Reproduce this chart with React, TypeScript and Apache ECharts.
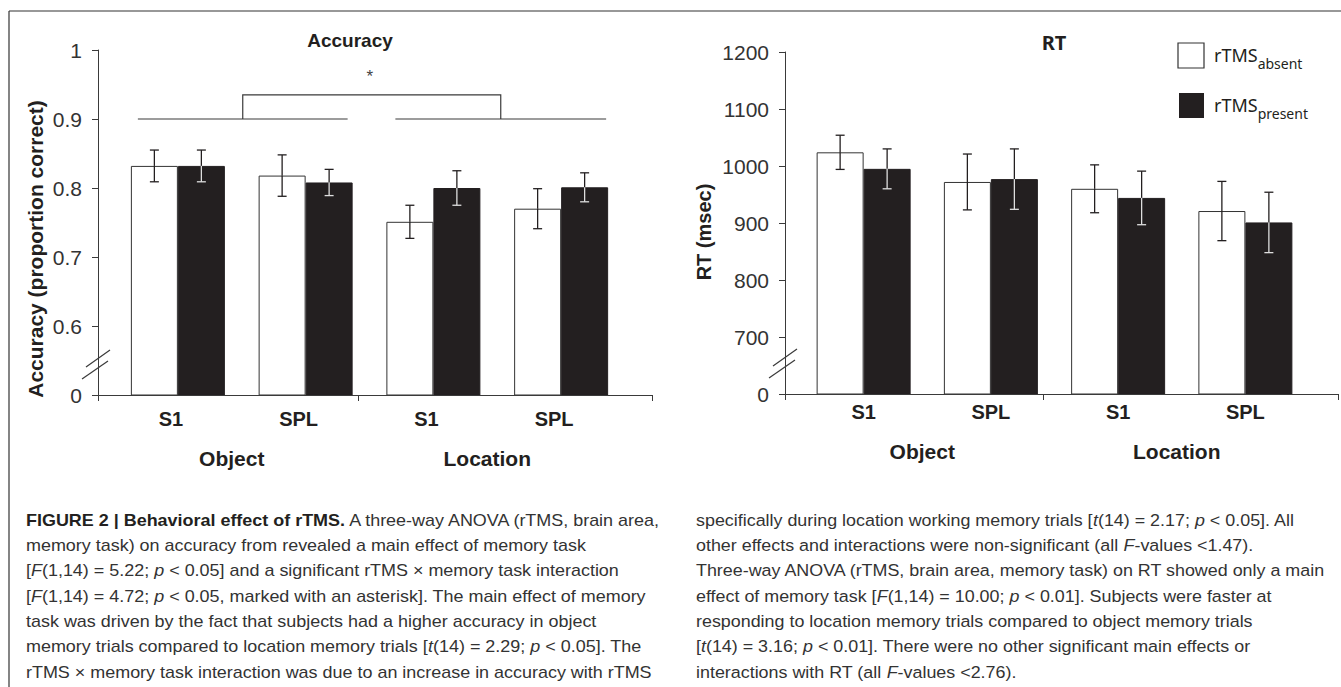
import React, { useEffect, useRef } from "react";
import * as echarts from "echarts";

// ---------- data ----------
const categories = ["S1", "SPL", "S1", "SPL"];
const tasks = ["Object", "Location"];

const accAbsent = [0.832, 0.818, 0.751, 0.77];
const accAbsentErr = [0.023, 0.03, 0.024, 0.029];
const accPresent = [0.832, 0.808, 0.8, 0.801];
const accPresentErr = [0.023, 0.019, 0.025, 0.021];

const rtAbsent = [1024, 972, 960, 921];
const rtAbsentErr = [30, 49, 42, 52];
const rtPresent = [995, 977, 944, 901];
const rtPresentErr = [35, 53, 47, 53];

const accYLabels = ["0", "0.6", "0.7", "0.8", "0.9", "1"];
const rtYLabels = ["0", "700", "800", "900", "1000", "1100", "1200"];

const seriesNames = ["rTMS", "rTMS"];
const seriesSubs = ["absent", "present"];

const captionLeft = [
  "{b|FIGURE 2 | Behavioral effect of rTMS.} A three-way ANOVA (rTMS, brain area,",
  "memory task) on accuracy from revealed a main effect of memory task",
  "[{i|F}(1,14) = 5.22; {i|p} < 0.05] and a significant rTMS × memory task interaction",
  "[{i|F}(1,14) = 4.72; {i|p} < 0.05, marked with an asterisk]. The main effect of memory",
  "task was driven by the fact that subjects had a higher accuracy in object",
  "memory trials compared to location memory trials [{i|t}(14) = 2.29; {i|p} < 0.05]. The",
  "rTMS × memory task interaction was due to an increase in accuracy with rTMS",
];
const captionRight = [
  "specifically during location working memory trials [{i|t}(14) = 2.17; {i|p} < 0.05]. All",
  "other effects and interactions were non-significant (all {i|F}-values <1.47).",
  "Three-way ANOVA (rTMS, brain area, memory task) on RT showed only a main",
  "effect of memory task [{i|F}(1,14) = 10.00; {i|p} < 0.01]. Subjects were faster at",
  "responding to location memory trials compared to object memory trials",
  "[{i|t}(14) = 3.16; {i|p} < 0.01]. There were no other significant main effects or",
  "interactions with RT (all {i|F}-values <2.76).",
];

// ---------- styles ----------
const DARK = "#231f20";
const AXIS = "#3a3a3a";
const SANS = '"Liberation Sans", Arial, sans-serif';
const BAR_W = 47;

function measure(text: string, font: string): number {
  const c = document.createElement("canvas");
  const ctx = c.getContext("2d")!;
  ctx.font = font;
  return ctx.measureText(text).width;
}
const strip = (s: string) => s.replace(/\{[a-z]+\|([^}]*)\}/g, "$1");

function errRender(offset: number, lowerColor: string) {
  return (_params: any, api: any) => {
    const i = api.value(0);
    const v = api.value(1);
    const e = api.value(2);
    const top = api.coord([i, v + e]);
    const mid = api.coord([i, v]);
    const bot = api.coord([i, v - e]);
    const x = mid[0] + offset;
    const cap = 4.5;
    const dark = { stroke: DARK, lineWidth: 1.3 };
    const light = { stroke: lowerColor, lineWidth: 1.3 };
    return {
      type: "group",
      children: [
        { type: "line", shape: { x1: x, y1: top[1], x2: x, y2: mid[1] }, style: dark },
        { type: "line", shape: { x1: x - cap, y1: top[1], x2: x + cap, y2: top[1] }, style: dark },
        { type: "line", shape: { x1: x, y1: mid[1], x2: x, y2: bot[1] }, style: light },
        { type: "line", shape: { x1: x - cap, y1: bot[1], x2: x + cap, y2: bot[1] }, style: light },
      ],
    };
  };
}

function frameX(grid: number, mid: number) {
  return {
    type: "value",
    gridIndex: grid,
    min: 0,
    max: 1,
    z: 10,
    axisLine: { show: true, lineStyle: { color: AXIS, width: 1 } },
    axisTick: { show: true, length: 6, customValues: [0, mid, 1], lineStyle: { color: AXIS } },
    axisLabel: { show: false },
    splitLine: { show: false },
  };
}

function catX(grid: number, data: string[], margin: number, pad: number, size: number) {
  return {
    type: "category",
    gridIndex: grid,
    position: "bottom",
    data,
    axisLine: { show: false },
    axisTick: { show: false },
    splitLine: { show: false },
    axisLabel: {
      margin,
      interval: 0,
      color: DARK,
      fontFamily: SANS,
      fontWeight: "bold",
      fontSize: size,
      padding: [0, pad, 0, 0],
    },
  };
}

export default function App() {
  const ref = useRef<HTMLDivElement>(null);

  useEffect(() => {
    const chart = echarts.init(ref.current!, null, { renderer: "svg" });

    const yLab = (labels: string[], min: number, step: number) => (v: number) =>
      labels[Math.round((v - min) / step)] ?? "";

    const option: any = {
      animation: false,
      backgroundColor: "#fff",
      grid: [
        { left: 98, top: 50, width: 554, height: 345 },
        { left: 114, top: 50, width: 511, height: 345 },
        { left: 785, top: 52, width: 553, height: 342 },
        { left: 800, top: 52, width: 509, height: 342 },
      ],
      xAxis: [
        frameX(0, 0.469),
        catX(1, categories, 14, 14, 20),
        catX(1, tasks, 53, 20, 21),
        frameX(2, 0.467),
        catX(3, categories, 8, 0, 20),
        catX(3, tasks, 47, 10, 21),
      ],
      yAxis: [
        {
          type: "value",
          gridIndex: 0,
          min: 0.5,
          max: 1,
          interval: 0.1,
          z: 10,
          axisLine: { show: true, lineStyle: { color: AXIS } },
          axisTick: { show: true, length: 6, lineStyle: { color: AXIS } },
          splitLine: { show: false },
          axisLabel: {
            margin: 16,
            color: "#333",
            fontFamily: SANS,
            fontSize: 21,
            formatter: yLab(accYLabels, 0.5, 0.1),
          },
        },
        { type: "value", gridIndex: 1, min: 0.5, max: 1, interval: 0.1, show: false },
        {
          type: "value",
          gridIndex: 2,
          min: 600,
          max: 1200,
          interval: 100,
          z: 10,
          axisLine: { show: true, lineStyle: { color: AXIS } },
          axisTick: { show: true, length: 6, lineStyle: { color: AXIS } },
          splitLine: { show: false },
          axisLabel: {
            margin: 16,
            color: "#333",
            fontFamily: SANS,
            fontSize: 21,
            formatter: yLab(rtYLabels, 600, 100),
          },
        },
        { type: "value", gridIndex: 3, min: 600, max: 1200, interval: 100, show: false },
      ],
      series: [
        {
          type: "bar",
          name: "absent",
          xAxisIndex: 1,
          yAxisIndex: 1,
          data: accAbsent,
          barWidth: BAR_W,
          barGap: "0%",
          itemStyle: { color: "#fff", borderColor: "#333", borderWidth: 1 },
        },
        {
          type: "bar",
          name: "present",
          xAxisIndex: 1,
          yAxisIndex: 1,
          data: accPresent,
          barWidth: BAR_W,
          barGap: "0%",
          itemStyle: { color: DARK, borderColor: DARK, borderWidth: 1 },
        },
        {
          type: "custom",
          xAxisIndex: 1,
          yAxisIndex: 1,
          z: 5,
          encode: { x: 0, y: 1 },
          data: accAbsent.map((v, i) => [i, v, accAbsentErr[i]]),
          renderItem: errRender(-BAR_W / 2, DARK),
        },
        {
          type: "custom",
          xAxisIndex: 1,
          yAxisIndex: 1,
          z: 5,
          encode: { x: 0, y: 1 },
          data: accPresent.map((v, i) => [i, v, accPresentErr[i]]),
          renderItem: errRender(BAR_W / 2, "#dedede"),
        },
        {
          type: "bar",
          name: "absent",
          xAxisIndex: 4,
          yAxisIndex: 3,
          data: rtAbsent,
          barWidth: BAR_W,
          barGap: "0%",
          itemStyle: { color: "#fff", borderColor: "#333", borderWidth: 1 },
        },
        {
          type: "bar",
          name: "present",
          xAxisIndex: 4,
          yAxisIndex: 3,
          data: rtPresent,
          barWidth: BAR_W,
          barGap: "0%",
          itemStyle: { color: DARK, borderColor: DARK, borderWidth: 1 },
        },
        {
          type: "custom",
          xAxisIndex: 4,
          yAxisIndex: 3,
          z: 5,
          encode: { x: 0, y: 1 },
          data: rtAbsent.map((v, i) => [i, v, rtAbsentErr[i]]),
          renderItem: errRender(-BAR_W / 2, DARK),
        },
        {
          type: "custom",
          xAxisIndex: 4,
          yAxisIndex: 3,
          z: 5,
          encode: { x: 0, y: 1 },
          data: rtPresent.map((v, i) => [i, v, rtPresentErr[i]]),
          renderItem: errRender(BAR_W / 2, "#dedede"),
        },
      ],
    };

    chart.setOption(option);

    // ---------- annotations ----------
    const cx = (axis: number, i: number) => chart.convertToPixel({ xAxisIndex: axis }, i) as number;
    const py = (axis: number, v: number) => chart.convertToPixel({ yAxisIndex: axis }, v) as number;
    const c = [0, 1, 2, 3].map((i) => cx(1, i));
    const y09 = py(1, 0.9);
    const yBr = py(1, 0.935);
    const yStar = py(1, 0.962);
    const l1 = [c[0] - 40, c[1] + 42];
    const l2 = [c[2] - 38, c[3] + 45];
    const m1 = (l1[0] + l1[1]) / 2;
    const m2 = (l2[0] + l2[1]) / 2;
    const thin = { stroke: AXIS, lineWidth: 1.2 };

    const g: any[] = [];
    // frame
    g.push({ type: "line", shape: { x1: 9, y1: 11, x2: 1341, y2: 11 }, style: { stroke: "#333", lineWidth: 1.2 } });
    g.push({ type: "line", shape: { x1: 9, y1: 11, x2: 9, y2: 687 }, style: { stroke: "#333", lineWidth: 1.2 } });
    // bracket
    g.push({ type: "line", shape: { x1: l1[0], y1: y09, x2: l1[1], y2: y09 }, style: thin });
    g.push({ type: "line", shape: { x1: l2[0], y1: y09, x2: l2[1], y2: y09 }, style: thin });
    g.push({
      type: "polyline",
      shape: { points: [[m1, y09], [m1, yBr], [m2, yBr], [m2, y09]] },
      style: { stroke: AXIS, lineWidth: 1.2, fill: "none" },
    });
    g.push({
      type: "text",
      x: (m1 + m2) / 2 - 2,
      y: yStar,
      style: { text: "*", fontFamily: SANS, fontSize: 17, fill: "#444", align: "center", verticalAlign: "middle" },
    });
    // titles
    g.push({
      type: "text",
      x: 350,
      y: 40,
      style: { text: "Accuracy", fontFamily: SANS, fontWeight: "bold", fontSize: 19, fill: DARK, align: "center", verticalAlign: "middle" },
    });
    g.push({
      type: "text",
      x: 1054,
      y: 42,
      style: { text: "RT", fontFamily: '"Noto Sans", sans-serif', fontWeight: "bold", fontSize: 20, fill: DARK, align: "center", verticalAlign: "middle" },
    });
    // axis names
    g.push({
      type: "text",
      x: 35,
      y: 249,
      rotation: Math.PI / 2,
      style: { text: "Accuracy (proportion correct)", fontFamily: SANS, fontWeight: "bold", fontSize: 21, fill: DARK, align: "center", verticalAlign: "middle" },
    });
    g.push({
      type: "text",
      x: 704,
      y: 232,
      rotation: Math.PI / 2,
      style: { text: "RT (msec)", fontFamily: SANS, fontWeight: "bold", fontSize: 20, fill: DARK, align: "center", verticalAlign: "middle" },
    });
    // axis break marks
    const brk = (x0: number, yb: number) => {
      g.push({ type: "line", shape: { x1: x0 - 12, y1: yb - 28, x2: x0 + 12, y2: yb - 45 }, style: thin });
      g.push({ type: "line", shape: { x1: x0 - 16, y1: yb - 16, x2: x0 + 10, y2: yb - 34 }, style: thin });
    };
    brk(98, 395);
    brk(785, 394);
    // legend
    const legFont = '"Noto Sans", sans-serif';
    const wR = measure("rTMS", `18px ${legFont}`);
    const legY = [55, 105];
    g.push({ type: "rect", shape: { x: 1178, y: 43, width: 26, height: 25 }, style: { fill: "#fff", stroke: "#333", lineWidth: 1.2 } });
    g.push({ type: "rect", shape: { x: 1179, y: 93, width: 25, height: 25 }, style: { fill: DARK } });
    seriesNames.forEach((n, k) => {
      g.push({
        type: "text",
        x: 1214,
        y: legY[k],
        style: { text: n, fontFamily: legFont, fontSize: 18, fill: DARK, align: "left", verticalAlign: "middle" },
      });
      g.push({
        type: "text",
        x: 1214 + wR,
        y: legY[k] + 8,
        style: { text: seriesSubs[k], fontFamily: legFont, fontSize: 14, fill: DARK, align: "left", verticalAlign: "middle" },
      });
    });
    // caption
    const capFont = `17px ${SANS}`;
    const sL = 626 / measure(strip(captionLeft[6]), capFont);
    const sR = 631 / measure(strip(captionRight[2]), capFont);
    const rich = {
      b: { fontFamily: SANS, fontSize: 17, fontWeight: "bold", fill: DARK },
      i: { fontFamily: SANS, fontSize: 17, fontStyle: "italic", fill: "#333" },
    };
    const addCaption = (lines: string[], x: number, s: number) => {
      lines.forEach((t, k) => {
        g.push({
          type: "text",
          x,
          y: 520 + k * 25.3,
          scaleX: s,
          style: { text: t, rich, fontFamily: SANS, fontSize: 17, fill: "#333", align: "left", verticalAlign: "middle" },
        });
      });
    };
    addCaption(captionLeft, 26, sL);
    addCaption(captionRight, 696, sR);

    chart.setOption({ graphic: g });

    return () => chart.dispose();
  }, []);

  return (
    <div
      ref={ref}
      style={{ position: "fixed", left: 0, top: 0, width: 1341, height: 687, background: "#fff" }}
    />
  );
}
